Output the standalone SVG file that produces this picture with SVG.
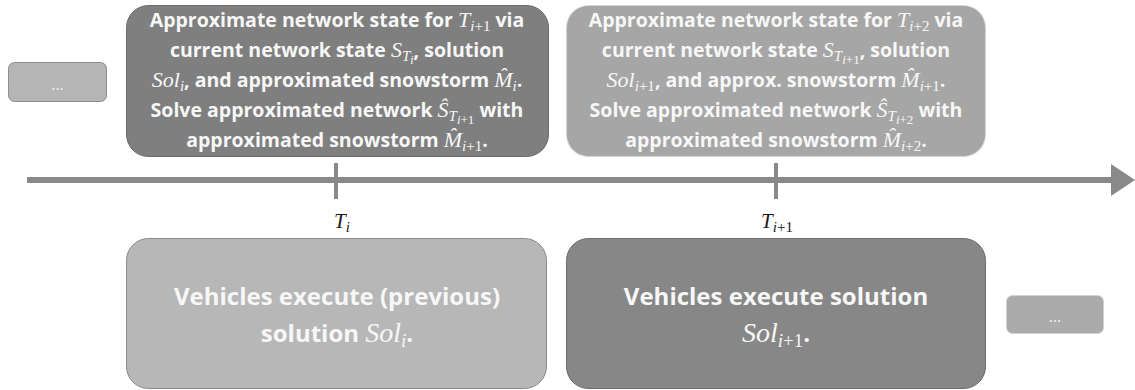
<svg xmlns="http://www.w3.org/2000/svg" width="1135" height="390" viewBox="0 0 1135 390">
<style>
.t{font-family:"Open Sans","Liberation Sans",sans-serif;font-weight:700;fill:#f7f7f7;text-anchor:middle}
.top{font-size:19.5px}
.big{font-size:24px}
.m{font-family:"Liberation Serif",serif;font-style:italic;font-weight:400}
.u{font-family:"Liberation Serif",serif;font-style:normal;font-weight:400}
.lbl{font-family:"Liberation Serif",serif;font-style:italic;font-size:21px;fill:#1a1a1a;text-anchor:middle}
.dots{font-family:"Open Sans","Liberation Sans",sans-serif;font-size:16px;fill:#f2f2f2;text-anchor:middle}
</style>
<defs>
<marker id="ah" viewBox="0 0 24 32" refX="0" refY="16" markerWidth="24" markerHeight="32" markerUnits="userSpaceOnUse" orient="auto">
<path d="M0,0 L24,16 L0,32 Z" fill="#898989"/>
</marker>
</defs>

<g id="connectors">
<line x1="27" y1="180" x2="1111" y2="180" stroke="#898989" stroke-width="6" marker-end="url(#ah)"/>
<line x1="336" y1="163" x2="336" y2="199" stroke="#898989" stroke-width="4"/>
<line x1="776" y1="163" x2="776" y2="199" stroke="#898989" stroke-width="4"/>
</g>

<g id="label-Ti">
<text class="lbl" x="342" y="228">T<tspan font-size="15" dy="4">i</tspan></text>
</g>
<g id="label-Ti1">
<text class="lbl" x="777" y="228">T<tspan font-size="15" dy="4">i</tspan><tspan font-size="15" font-style="normal">+1</tspan></text>
</g>

<g id="dots-left">
<rect x="8.5" y="62.5" width="98" height="39" rx="6" fill="#b5b5b5" stroke="#8e8e8e" stroke-width="1"/>
<text class="dots" x="57.5" y="90">...</text>
</g>

<g id="approx-i">
<rect x="126.5" y="5.5" width="422" height="151" rx="22" fill="#7f7f7f" stroke="#6b6b6b" stroke-width="1"/>
<text class="t top" x="337" y="27">Approximate network state for <tspan class="m" font-size="22">T</tspan><tspan class="m" font-size="15" dy="4">i</tspan><tspan class="u" font-size="15">+1</tspan><tspan dy="-4"> via</tspan></text>
<text class="t top" x="337" y="57">current network state <tspan class="m" font-size="22">S</tspan><tspan class="m" font-size="15" dy="4">T</tspan><tspan class="m" font-size="12" dy="3">i</tspan><tspan dy="-7">, solution</tspan></text>
<text class="t top" x="337" y="87"><tspan class="m" font-size="22">Sol</tspan><tspan class="m" font-size="15" dy="4">i</tspan><tspan dy="-4">, and approximated snowstorm </tspan><tspan class="m" font-size="22">M̂</tspan><tspan class="m" font-size="15" dy="4">i</tspan><tspan dy="-4">.</tspan></text>
<text class="t top" x="337" y="117">Solve approximated network <tspan class="m" font-size="22">Ŝ</tspan><tspan class="m" font-size="15" dy="4">T</tspan><tspan class="m" font-size="13" dy="3">i</tspan><tspan class="u" font-size="13">+1</tspan><tspan dy="-7"> with</tspan></text>
<text class="t top" x="337" y="147">approximated snowstorm <tspan class="m" font-size="22">M̂</tspan><tspan class="m" font-size="15" dy="4">i</tspan><tspan class="u" font-size="15">+1</tspan><tspan dy="-4">.</tspan></text>
</g>

<g id="approx-i1">
<rect x="566.5" y="5.5" width="419" height="151" rx="22" fill="#a6a6a6" stroke="#d6d6d6" stroke-width="1"/>
<text class="t top" x="776" y="27">Approximate network state for <tspan class="m" font-size="22">T</tspan><tspan class="m" font-size="15" dy="4">i</tspan><tspan class="u" font-size="15">+2</tspan><tspan dy="-4"> via</tspan></text>
<text class="t top" x="776" y="57">current network state <tspan class="m" font-size="22">S</tspan><tspan class="m" font-size="15" dy="4">T</tspan><tspan class="m" font-size="13" dy="3">i</tspan><tspan class="u" font-size="13">+1</tspan><tspan dy="-7">, solution</tspan></text>
<text class="t top" x="776" y="87"><tspan class="m" font-size="22">Sol</tspan><tspan class="m" font-size="15" dy="4">i</tspan><tspan class="u" font-size="15">+1</tspan><tspan dy="-4">, and approx. snowstorm </tspan><tspan class="m" font-size="22">M̂</tspan><tspan class="m" font-size="15" dy="4">i</tspan><tspan class="u" font-size="15">+1</tspan><tspan dy="-4">.</tspan></text>
<text class="t top" x="776" y="117">Solve approximated network <tspan class="m" font-size="22">Ŝ</tspan><tspan class="m" font-size="15" dy="4">T</tspan><tspan class="m" font-size="13" dy="3">i</tspan><tspan class="u" font-size="13">+2</tspan><tspan dy="-7"> with</tspan></text>
<text class="t top" x="776" y="147">approximated snowstorm <tspan class="m" font-size="22">M̂</tspan><tspan class="m" font-size="15" dy="4">i</tspan><tspan class="u" font-size="15">+2</tspan><tspan dy="-4">.</tspan></text>
</g>

<g id="exec-i">
<rect x="126.5" y="238.5" width="420" height="150" rx="22" fill="#b7b7b7" stroke="#8a8a8a" stroke-width="1"/>
<text class="t big" x="337" y="305">Vehicles execute (previous)</text>
<text class="t big" x="337" y="342">solution <tspan class="m" font-size="28">Sol</tspan><tspan class="m" font-size="19" dy="5">i</tspan><tspan dy="-5">.</tspan></text>
</g>

<g id="exec-i1">
<rect x="566.5" y="238.5" width="419" height="150" rx="22" fill="#878787" stroke="#6c6c6c" stroke-width="1"/>
<text class="t big" x="776" y="305">Vehicles execute solution</text>
<text class="t big" x="776" y="342"><tspan class="m" font-size="28">Sol</tspan><tspan class="m" font-size="19" dy="5">i</tspan><tspan class="u" font-size="19">+1</tspan><tspan dy="-5">.</tspan></text>
</g>

<g id="dots-right">
<rect x="1006.5" y="295.5" width="97" height="38" rx="6" fill="#ababab" stroke="#d2d2d2" stroke-width="1"/>
<text class="dots" x="1055" y="322">...</text>
</g>
</svg>
